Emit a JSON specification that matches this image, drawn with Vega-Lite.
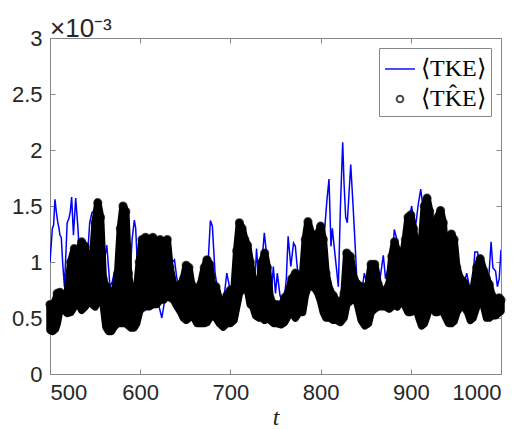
{
  "$schema": "https://vega.github.io/schema/vega-lite/v6.json",
  "width": 451,
  "height": 336,
  "autosize": "none",
  "padding": {"left": 50, "top": 38, "right": 26, "bottom": 55},
  "background": "white",
  "title": {"text": "×10⁻³", "anchor": "start", "frame": "group", "fontSize": 26, "font": "Liberation Sans", "fontWeight": "normal", "color": "#262626", "offset": 0, "dy": 15},
  "config": {
    "view": {"stroke": "#888888", "strokeWidth": 1},
    "axis": {"grid": false, "domainColor": "#888888", "tickColor": "#888888", "tickSize": -5, "labelFont": "Liberation Sans", "labelFontSize": 22, "labelColor": "#262626", "labelPadding": 13},
    "legend": {"orient": "top-right", "offset": 10, "strokeColor": "#888888", "fillColor": "white", "padding": 5, "rowPadding": 6, "labelFont": "Liberation Serif", "labelFontSize": 24, "labelColor": "black", "symbolStrokeWidth": 2, "labelOffset": 5}
  },
  "datasets": {
    "blue": [
      {"t":500,"v":1.0},{"t":502.6,"v":1.3},{"t":504,"v":1.33},{"t":505.5,"v":1.56},{"t":507,"v":1.45},{"t":508.5,"v":1.36},{"t":510,"v":1.3},{"t":511,"v":1.24},{"t":512.5,"v":1.22},{"t":514,"v":1.0},{"t":516,"v":0.78},{"t":517.5,"v":1.05},{"t":519,"v":1.35},{"t":521,"v":1.39},{"t":522.5,"v":1.45},{"t":524,"v":1.58},{"t":526,"v":1.24},{"t":528.5,"v":1.57},{"t":531,"v":1.3},{"t":533,"v":1.0},{"t":535,"v":0.8},{"t":538,"v":0.9},{"t":542,"v":1.1},{"t":544,"v":1.35},{"t":546.5,"v":1.44},{"t":549,"v":1.46},{"t":552,"v":1.2},{"t":556,"v":1.15},{"t":560,"v":1.0},{"t":563,"v":1.15},{"t":566.5,"v":0.78},{"t":569,"v":0.82},{"t":571,"v":0.9},{"t":575,"v":0.73},{"t":578,"v":0.85},{"t":583,"v":0.69},{"t":585.7,"v":0.56},{"t":589,"v":0.9},{"t":591,"v":1.2},{"t":593.5,"v":1.375},{"t":595,"v":1.3},{"t":597,"v":0.95},{"t":600,"v":0.8},{"t":603,"v":0.62},{"t":605,"v":0.56},{"t":608,"v":0.7},{"t":610,"v":0.81},{"t":612,"v":0.69},{"t":614,"v":0.65},{"t":617,"v":0.72},{"t":621,"v":0.6},{"t":624,"v":0.5},{"t":627,"v":0.65},{"t":631,"v":0.75},{"t":635,"v":0.99},{"t":638,"v":1.02},{"t":640.5,"v":0.86},{"t":643,"v":0.8},{"t":646,"v":0.87},{"t":649,"v":0.7},{"t":652.6,"v":0.54},{"t":656,"v":0.65},{"t":660,"v":0.75},{"t":664.5,"v":0.82},{"t":667,"v":0.7},{"t":671,"v":0.9},{"t":674,"v":0.8},{"t":676,"v":1.1},{"t":677.8,"v":1.37},{"t":680,"v":1.32},{"t":683,"v":0.9},{"t":686,"v":0.75},{"t":689,"v":0.6},{"t":692,"v":0.62},{"t":696,"v":0.9},{"t":699,"v":0.78},{"t":703,"v":0.6},{"t":706,"v":0.65},{"t":709,"v":0.6},{"t":712,"v":0.9},{"t":716,"v":0.85},{"t":720,"v":0.8},{"t":724,"v":0.65},{"t":727,"v":0.8},{"t":729,"v":1.12},{"t":731,"v":0.86},{"t":734,"v":0.9},{"t":737.6,"v":1.26},{"t":740,"v":1.08},{"t":743,"v":0.9},{"t":745.7,"v":0.75},{"t":747.6,"v":0.96},{"t":750,"v":0.72},{"t":752,"v":0.9},{"t":755,"v":0.7},{"t":759,"v":0.62},{"t":762,"v":0.85},{"t":764,"v":1.23},{"t":767,"v":0.96},{"t":770,"v":1.17},{"t":772,"v":1.14},{"t":774,"v":0.96},{"t":777,"v":0.8},{"t":780,"v":0.85},{"t":785,"v":0.95},{"t":790,"v":1.0},{"t":795,"v":1.05},{"t":800,"v":1.0},{"t":803,"v":1.1},{"t":805,"v":1.345},{"t":807,"v":1.55},{"t":809.3,"v":1.74},{"t":811.5,"v":1.14},{"t":813,"v":1.3},{"t":815,"v":1.14},{"t":819.7,"v":0.78},{"t":822,"v":1.5},{"t":824.5,"v":2.07},{"t":826,"v":1.7},{"t":827.8,"v":1.4},{"t":829.6,"v":1.35},{"t":833.4,"v":1.87},{"t":836,"v":1.5},{"t":838,"v":1.2},{"t":842,"v":0.54},{"t":845,"v":0.7},{"t":848.5,"v":0.9},{"t":851,"v":0.82},{"t":855,"v":0.7},{"t":860,"v":0.75},{"t":865,"v":0.8},{"t":869.5,"v":1.06},{"t":872,"v":0.85},{"t":875,"v":0.95},{"t":878,"v":0.85},{"t":881.7,"v":1.29},{"t":884,"v":1.22},{"t":888,"v":0.9},{"t":892,"v":1.1},{"t":896,"v":1.3},{"t":901,"v":1.5},{"t":904,"v":1.3},{"t":906,"v":1.36},{"t":908,"v":1.5},{"t":911,"v":1.65},{"t":914,"v":1.45},{"t":918,"v":1.1},{"t":922,"v":1.0},{"t":925,"v":1.375},{"t":929,"v":1.2},{"t":933,"v":1.0},{"t":937,"v":0.9},{"t":941,"v":0.8},{"t":945,"v":0.65},{"t":948,"v":0.7},{"t":951,"v":0.51},{"t":954,"v":0.6},{"t":958,"v":0.78},{"t":962,"v":0.9},{"t":965,"v":0.78},{"t":968,"v":0.75},{"t":971,"v":1.09},{"t":974,"v":1.09},{"t":977,"v":0.95},{"t":980,"v":0.7},{"t":984,"v":0.56},{"t":986,"v":0.8},{"t":989,"v":1.18},{"t":991,"v":0.95},{"t":994,"v":0.92},{"t":996,"v":0.78},{"t":998,"v":0.85},{"t":1000,"v":1.11}
    ],
    "black": [
      {"t":500,"hi":0.62,"lo":0.39},{"t":503,"hi":0.6,"lo":0.38},{"t":506,"hi":0.65,"lo":0.4},{"t":508,"hi":0.72,"lo":0.45},{"t":511,"hi":0.73,"lo":0.58},{"t":515,"hi":0.7,"lo":0.58},{"t":519,"hi":0.72,"lo":0.54},{"t":523,"hi":1.0,"lo":0.55},{"t":527,"hi":1.12,"lo":0.6},{"t":531,"hi":1.06,"lo":0.65},{"t":535,"hi":1.18,"lo":0.57},{"t":539,"hi":1.14,"lo":0.6},{"t":543,"hi":0.8,"lo":0.65},{"t":547,"hi":1.0,"lo":0.62},{"t":550,"hi":1.35,"lo":0.6},{"t":553,"hi":1.53,"lo":0.65},{"t":556,"hi":1.4,"lo":0.68},{"t":559,"hi":0.85,"lo":0.62},{"t":562,"hi":0.78,"lo":0.42},{"t":565,"hi":0.75,"lo":0.38},{"t":568,"hi":0.72,"lo":0.38},{"t":571,"hi":0.7,"lo":0.42},{"t":575,"hi":0.9,"lo":0.45},{"t":578,"hi":1.3,"lo":0.45},{"t":581,"hi":1.5,"lo":0.45},{"t":584,"hi":1.45,"lo":0.45},{"t":587,"hi":0.9,"lo":0.43},{"t":590,"hi":0.7,"lo":0.41},{"t":593,"hi":0.72,"lo":0.41},{"t":596,"hi":0.75,"lo":0.45},{"t":599,"hi":1.0,"lo":0.55},{"t":602,"hi":1.2,"lo":0.6},{"t":606,"hi":1.22,"lo":0.6},{"t":610,"hi":1.2,"lo":0.6},{"t":614,"hi":1.22,"lo":0.62},{"t":618,"hi":1.18,"lo":0.62},{"t":622,"hi":1.2,"lo":0.66},{"t":626,"hi":1.18,"lo":0.66},{"t":630,"hi":1.2,"lo":0.7},{"t":633,"hi":0.95,"lo":0.68},{"t":637,"hi":0.8,"lo":0.66},{"t":641,"hi":0.78,"lo":0.6},{"t":645,"hi":0.8,"lo":0.55},{"t":648,"hi":0.85,"lo":0.5},{"t":651,"hi":0.97,"lo":0.48},{"t":654,"hi":0.95,"lo":0.5},{"t":657,"hi":0.8,"lo":0.6},{"t":660,"hi":0.75,"lo":0.5},{"t":663,"hi":0.75,"lo":0.45},{"t":667,"hi":0.8,"lo":0.45},{"t":671,"hi":0.95,"lo":0.45},{"t":674,"hi":1.02,"lo":0.46},{"t":677,"hi":0.98,"lo":0.5},{"t":680,"hi":0.8,"lo":0.52},{"t":684,"hi":0.78,"lo":0.5},{"t":688,"hi":0.65,"lo":0.45},{"t":692,"hi":0.62,"lo":0.42},{"t":696,"hi":0.7,"lo":0.45},{"t":700,"hi":0.75,"lo":0.45},{"t":704,"hi":0.75,"lo":0.48},{"t":707,"hi":1.1,"lo":0.6},{"t":710,"hi":1.35,"lo":0.72},{"t":713,"hi":1.3,"lo":0.75},{"t":716,"hi":1.2,"lo":0.78},{"t":719,"hi":1.15,"lo":0.75},{"t":722,"hi":1.0,"lo":0.62},{"t":725,"hi":0.85,"lo":0.6},{"t":728,"hi":0.8,"lo":0.52},{"t":732,"hi":0.8,"lo":0.5},{"t":735,"hi":1.0,"lo":0.5},{"t":738,"hi":1.08,"lo":0.48},{"t":741,"hi":0.95,"lo":0.5},{"t":744,"hi":0.68,"lo":0.48},{"t":748,"hi":0.62,"lo":0.45},{"t":752,"hi":0.62,"lo":0.45},{"t":756,"hi":0.6,"lo":0.44},{"t":760,"hi":0.68,"lo":0.46},{"t":764,"hi":0.72,"lo":0.52},{"t":768,"hi":0.85,"lo":0.55},{"t":772,"hi":0.9,"lo":0.5},{"t":776,"hi":0.88,"lo":0.55},{"t":780,"hi":0.88,"lo":0.55},{"t":783,"hi":1.2,"lo":0.7},{"t":786,"hi":1.36,"lo":0.78},{"t":790,"hi":1.25,"lo":0.78},{"t":794,"hi":1.15,"lo":0.76},{"t":797,"hi":1.25,"lo":0.72},{"t":800,"hi":1.32,"lo":0.65},{"t":803,"hi":1.2,"lo":0.55},{"t":806,"hi":0.9,"lo":0.5},{"t":810,"hi":0.75,"lo":0.5},{"t":814,"hi":0.7,"lo":0.48},{"t":818,"hi":0.65,"lo":0.48},{"t":822,"hi":0.6,"lo":0.46},{"t":826,"hi":0.72,"lo":0.5},{"t":829,"hi":1.08,"lo":0.62},{"t":833,"hi":1.05,"lo":0.65},{"t":837,"hi":0.85,"lo":0.7},{"t":841,"hi":0.8,"lo":0.62},{"t":845,"hi":0.78,"lo":0.48},{"t":849,"hi":0.75,"lo":0.43},{"t":853,"hi":0.8,"lo":0.45},{"t":856,"hi":0.98,"lo":0.55},{"t":860,"hi":0.98,"lo":0.58},{"t":864,"hi":0.8,"lo":0.6},{"t":868,"hi":0.72,"lo":0.6},{"t":872,"hi":0.75,"lo":0.6},{"t":876,"hi":0.8,"lo":0.58},{"t":879,"hi":1.05,"lo":0.6},{"t":882,"hi":1.18,"lo":0.62},{"t":885,"hi":1.1,"lo":0.6},{"t":888,"hi":0.95,"lo":0.65},{"t":891,"hi":1.05,"lo":0.65},{"t":894,"hi":1.2,"lo":0.6},{"t":897,"hi":1.4,"lo":0.55},{"t":900,"hi":1.42,"lo":0.55},{"t":903,"hi":1.3,"lo":0.56},{"t":906,"hi":1.1,"lo":0.58},{"t":909,"hi":0.95,"lo":0.5},{"t":912,"hi":1.2,"lo":0.43},{"t":915,"hi":1.5,"lo":0.45},{"t":918,"hi":1.57,"lo":0.52},{"t":921,"hi":1.45,"lo":0.6},{"t":924,"hi":1.05,"lo":0.62},{"t":927,"hi":1.2,"lo":0.55},{"t":930,"hi":1.4,"lo":0.55},{"t":933,"hi":1.46,"lo":0.58},{"t":936,"hi":1.35,"lo":0.55},{"t":939,"hi":1.0,"lo":0.5},{"t":942,"hi":1.1,"lo":0.45},{"t":945,"hi":1.25,"lo":0.45},{"t":948,"hi":1.2,"lo":0.47},{"t":951,"hi":0.95,"lo":0.55},{"t":955,"hi":0.85,"lo":0.6},{"t":959,"hi":0.82,"lo":0.6},{"t":963,"hi":0.75,"lo":0.55},{"t":966,"hi":0.7,"lo":0.48},{"t":969,"hi":0.75,"lo":0.5},{"t":973,"hi":0.95,"lo":0.6},{"t":977,"hi":1.03,"lo":0.65},{"t":981,"hi":0.92,"lo":0.6},{"t":984,"hi":0.85,"lo":0.5},{"t":987,"hi":0.8,"lo":0.5},{"t":990,"hi":0.7,"lo":0.52},{"t":994,"hi":0.66,"lo":0.52},{"t":998,"hi":0.68,"lo":0.55},{"t":1000,"hi":0.66,"lo":0.56}
    ]
  },
  "layer": [
    {
      "data": {"name": "blue"},
      "transform": [{"calculate": "'TKE'", "as": "s"}],
      "mark": {"type": "line", "strokeWidth": 1.5, "clip": true},
      "encoding": {
        "x": {"field": "t", "type": "quantitative", "scale": {"domain": [500, 1000], "nice": false}, "axis": {"orient": "bottom", "values": [500, 600, 700, 800, 900, 1000], "format": "d", "title": "t", "titleFont": "Liberation Serif", "titleFontStyle": "italic", "titleFontWeight": "normal", "titleFontSize": 24, "titleColor": "#262626", "titlePadding": 2}},
        "y": {"field": "v", "type": "quantitative", "scale": {"domain": [0, 3], "nice": false}, "axis": {"orient": "left", "values": [0, 0.5, 1, 1.5, 2, 2.5, 3], "format": "~g", "title": null}},
        "color": {"field": "s", "type": "nominal", "scale": {"domain": ["TKE", "TKEhat"], "range": ["#0000ff", "#000000"]}, "legend": {"title": null, "labelExpr": "datum.label == 'TKE' ? '⟨TKE⟩' : '⟨TK̂E⟩'"}}
      }
    },
    {
      "data": {"name": "black"},
      "mark": {"type": "area", "color": "black", "stroke": "black", "strokeWidth": 7.5, "strokeJoin": "round", "strokeCap": "round", "clip": false},
      "encoding": {
        "x": {"field": "t", "type": "quantitative", "axis": {"orient": "top", "labels": false, "domain": false, "title": null, "values": [500, 600, 700, 800, 900, 1000]}},
        "y": {"field": "hi", "type": "quantitative", "axis": {"orient": "right", "labels": false, "domain": false, "title": null, "values": [0, 0.5, 1, 1.5, 2, 2.5, 3]}},
        "y2": {"field": "lo"}
      }
    },
    {
      "data": {"name": "black"},
      "transform": [{"calculate": "'TKEhat'", "as": "s"}],
      "mark": {"type": "point", "filled": false, "strokeWidth": 2.5, "clip": false},
      "encoding": {
        "x": {"field": "t", "type": "quantitative", "axis": null},
        "y": {"field": "hi", "type": "quantitative", "axis": null},
        "color": {"field": "s", "type": "nominal"},
        "shape": {"field": "s", "type": "nominal", "scale": {"domain": ["TKE", "TKEhat"], "range": ["stroke", "circle"]}, "legend": {"title": null, "labelExpr": "datum.label == 'TKE' ? '⟨TKE⟩' : '⟨TK̂E⟩'"}},
        "size": {"field": "s", "type": "ordinal", "scale": {"domain": ["TKE", "TKEhat"], "range": [900, 45]}, "legend": {"title": null, "labelExpr": "datum.label == 'TKE' ? '⟨TKE⟩' : '⟨TK̂E⟩'"}}
      }
    }
  ],
  "resolve": {"axis": {"x": "independent", "y": "independent"}}
}
